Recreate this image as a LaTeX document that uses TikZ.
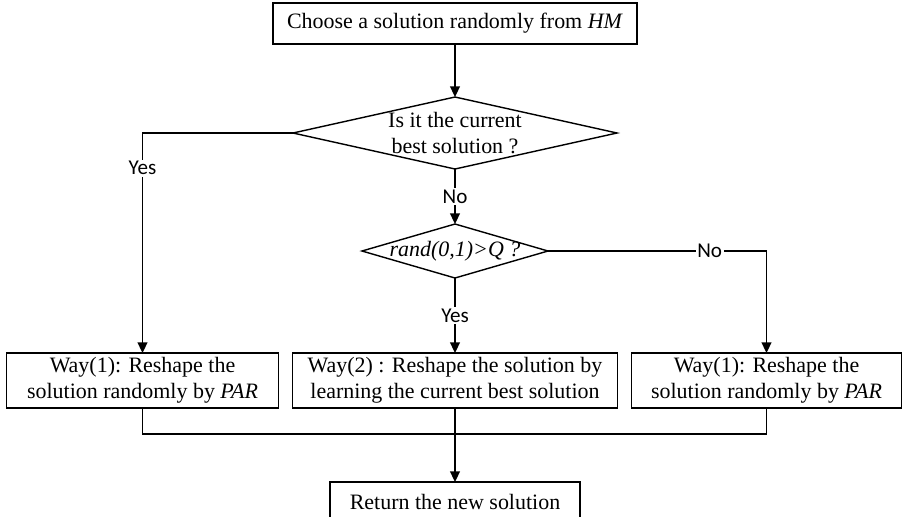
\documentclass[tikz,border=0pt]{standalone}
\usepackage{fontspec}
\setmainfont{Liberation Serif}
\newfontfamily\lblfont{Carlito}
\usetikzlibrary{positioning, arrows.meta, shapes.geometric}

\begin{document}
\begin{tikzpicture}[
    box/.style={draw, rectangle, line width=0.8pt, outer sep=0pt,
                minimum height=1.1cm, align=center, inner sep=1pt,
                font=\fontsize{12.5}{14.8}\selectfont},
    decision/.style={draw, diamond, line width=0.8pt, inner sep=0pt, outer sep=0pt},
    dtext/.style={align=center, inner sep=0pt,
                  font=\fontsize{12.5}{15.2}\selectfont},
    lbl/.style={fill=white, inner sep=1pt, font=\lblfont\fontsize{12}{14}\selectfont},
    line/.style={line width=0.8pt},
    arrow/.style={-{Triangle[length=6pt, width=5.5pt]}, line width=1pt}]
  \useasboundingbox (0,0) rectangle (18.06,-10.32);

  \node[box, minimum width=7.28cm, minimum height=0.82cm] (pick) at (9.1,-0.47)
    {Choose a solution randomly from \textit{HM}};
  \node[decision, minimum width=6.48cm, minimum height=1.44cm,
        below=1.06cm of pick] (best) {};
  \node[dtext] (bestt) at (best) {Is it the current\\best solution ?};
  \node[decision, minimum width=3.72cm, minimum height=1.08cm,
        below=1.1cm of best] (rnd) {};
  \node[dtext] (rndt) at (rnd) {\textit{rand(0,1)>Q ?}};

  \node[box, minimum width=6.5cm, below=1.5cm of rnd] (way2)
    {Way(2) : Reshape the solution by\\learning the current best solution};
  \node[box, minimum width=5.44cm, left=0.28cm of way2] (way1a)
    {Way(1): Reshape the\\solution randomly by \textit{PAR}};
  \node[box, minimum width=5.4cm, right=0.28cm of way2] (way1b)
    {Way(1): Reshape the\\solution randomly by \textit{PAR}};
  \node[box, minimum width=5cm, minimum height=0.8cm,
        below=1.48cm of way2] (ret) {Return the new solution};

  \draw[arrow] (pick) -- (best);
  \draw[arrow] (best.west) -| node[lbl, pos=0.58] {Yes} (way1a.north);
  \draw[arrow] (best.south) -- node[lbl] {No} (rnd.north);
  \draw[arrow] (rnd.south) -- node[lbl] {Yes} (way2.north);
  \draw[arrow] (rnd.east) -| node[lbl, pos=0.37] {No} (way1b.north);

  \coordinate[below=0.52cm of way2] (merge);
  \draw[line] (way1a.south) |- (merge) -| (way1b.south);
  \draw[arrow] (way2.south) -- (ret.north);
\end{tikzpicture}
\end{document}
